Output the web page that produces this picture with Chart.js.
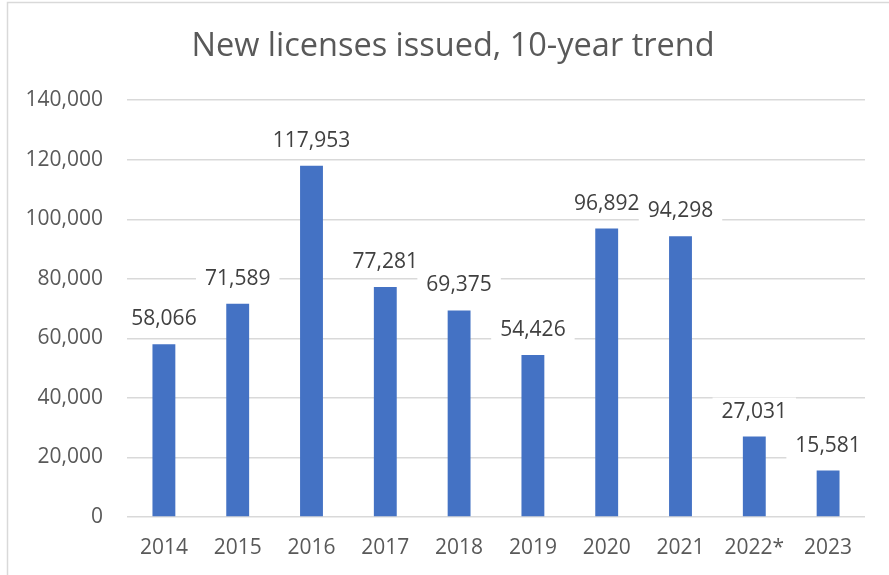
<!DOCTYPE html>
<html>
<head>
<meta charset="utf-8">
<script src="https://cdn.jsdelivr.net/npm/chart.js@4/dist/chart.umd.min.js"></script>
<style>
  html, body { margin: 0; padding: 0; background: #fff; }
  #wrap { width: 889px; height: 575px; position: relative; }
</style>
</head>
<body>
<div id="wrap"><canvas id="chart" width="889" height="575"></canvas></div>
<script>
// New licenses issued - 10-year column chart
const years = ['2014', '2015', '2016', '2017', '2018', '2019', '2020', '2021', '2022*', '2023'];
const licenses = [58066, 71589, 117953, 77281, 69375, 54426, 96892, 94298, 27031, 15581];
const yTicks = [0, 20000, 40000, 60000, 80000, 100000, 120000, 140000];
const titleText = 'New licenses issued, 10-year trend';

const FONT = '"Open Sans", "Liberation Sans", sans-serif';
const fmt = v => v.toLocaleString('en-US');

// frame around the chart + the title, centred on the whole canvas
const framePlugin = {
    id: 'frame',
    beforeDraw(chart) {
        const c = chart.ctx;
        c.save();
        c.fillStyle = '#fff';
        c.fillRect(0, 0, chart.width, chart.height);
        c.strokeStyle = '#d9d9d9';
        c.lineWidth = 1.5;
        c.strokeRect(7.5, 2.5, chart.width + 20, chart.height + 20);
        c.font = '32.5px ' + FONT;
        c.fillStyle = '#595959';
        c.textAlign = 'center';
        c.textBaseline = 'middle';
        c.fillText(titleText, 453, 47);
        c.restore();
    }
};

// value labels above each column, on a white box that hides the gridlines
const valueLabels = {
    id: 'valueLabels',
    afterDatasetsDraw(chart) {
        const c = chart.ctx;
        const meta = chart.getDatasetMeta(0);
        c.save();
        c.font = '21px ' + FONT;
        c.textAlign = 'center';
        c.textBaseline = 'middle';
        meta.data.forEach((bar, i) => {
            const txt = fmt(licenses[i]);
            const w = c.measureText(txt).width;
            const y = bar.y - 25;
            c.fillStyle = '#fff';
            c.fillRect(bar.x - w / 2 - 9, y - 14, w + 18, 28);
            c.fillStyle = '#404040';
            c.fillText(txt, bar.x, y);
        });
        c.restore();
    }
};

new Chart(document.getElementById('chart').getContext('2d'), {
    type: 'bar',
    data: {
        labels: years,
        datasets: [{
            data: licenses,
            backgroundColor: '#4472c4',
            categoryPercentage: 1,
            barPercentage: 0.31
        }]
    },
    options: {
        responsive: false,
        animation: false,
        layout: { padding: { left: 0, right: 24, top: 0, bottom: 0 } },
        plugins: {
            legend: { display: false },
            tooltip: { enabled: false },
            // title box only reserves the space; the text is drawn in framePlugin
            title: {
                display: true,
                text: titleText,
                color: 'rgba(0,0,0,0)',
                font: { family: FONT, size: 31, weight: 'normal' },
                padding: { top: 28, bottom: 35 }
            }
        },
        scales: {
            x: {
                grid: { display: false, drawTicks: false },
                border: { display: false },
                ticks: { color: '#595959', font: { family: FONT, size: 21 }, padding: 18, maxRotation: 0 },
                afterFit: s => { s.height = 58; }
            },
            y: {
                min: 0,
                max: 140000,
                afterBuildTicks: s => { s.ticks = yTicks.map(v => ({ value: v })); },
                grid: { color: '#d9d9d9', lineWidth: 1.5, drawTicks: false },
                border: { display: false },
                ticks: { color: '#595959', font: { family: FONT, size: 21 }, padding: 24, callback: v => fmt(v) },
                afterFit: s => { s.width = 127; }
            }
        }
    },
    plugins: [framePlugin, valueLabels]
});
</script>
</body>
</html>
